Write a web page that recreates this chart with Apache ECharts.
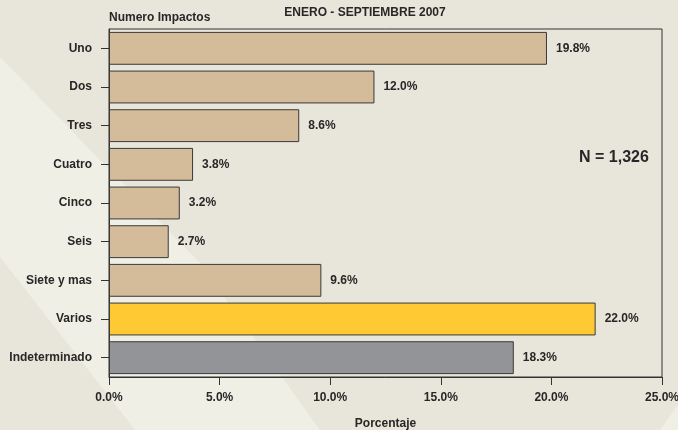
<!DOCTYPE html>
<html>
<head>
<meta charset="utf-8">
<script src="https://cdn.jsdelivr.net/npm/echarts@6/dist/echarts.min.js"></script>
<style>
  html, body { margin: 0; padding: 0; background: #e8e5da; }
  #chart { width: 678px; height: 430px; }
</style>
</head>
<body>
<div id="chart"></div>
<script>
// categories (top to bottom) and their percentages
const categories = ['Uno', 'Dos', 'Tres', 'Cuatro', 'Cinco', 'Seis', 'Siete y mas', 'Varios', 'Indeterminado']
const percents = [19.8, 12.0, 8.6, 3.8, 3.2, 2.7, 9.6, 22.0, 18.3]
const barColors = ['#d4bb99', '#d4bb99', '#d4bb99', '#d4bb99', '#d4bb99', '#d4bb99', '#d4bb99', '#fec933', '#939497']
const xTicks = [0, 5, 10, 15, 20, 25]

const font = '"Liberation Sans", Arial, sans-serif'
const ink = '#2a2627'

const chart = echarts.init(document.getElementById('chart'))

chart.setOption({
  backgroundColor: '#e8e5da',
  animation: false,
  textStyle: { fontFamily: font },
  graphic: [
    // pale diagonal band in the background
    {
      type: 'polygon', z: -10, silent: true,
      shape: { points: [[0, 57], [110, 170], [200, 263], [320, 430], [135, 430], [0, 257]] },
      style: { fill: '#f0efe6' }
    },
    {
      type: 'polygon', z: -10, silent: true,
      shape: { points: [[660, 430], [678, 405], [678, 430]] },
      style: { fill: '#f0efe6' }
    },
    {
      type: 'text', left: 109, top: 12,
      style: { text: 'Numero Impactos', fill: ink, font: 'bold 12px ' + font }
    },
    {
      type: 'text', left: 579, top: 150,
      style: { text: 'N = 1,326', fill: ink, font: 'bold 16px ' + font }
    }
  ],
  title: {
    text: 'ENERO - SEPTIEMBRE 2007',
    left: 360, top: 2, textAlign: 'center',
    textStyle: { fontSize: 12, fontWeight: 'bold', color: ink, fontFamily: font }
  },
  grid: {
    left: 109, right: 16, top: 29, bottom: 53,
    outerBoundsMode: 'none', containLabel: false,
    show: true, borderColor: '#333', borderWidth: 1, backgroundColor: 'transparent'
  },
  xAxis: {
    type: 'value',
    min: xTicks[0], max: xTicks[xTicks.length - 1], interval: 5,
    name: 'Porcentaje', nameLocation: 'middle', nameGap: 41,
    nameTextStyle: { fontSize: 12, fontWeight: 'bold', color: ink, fontFamily: font },
    axisLine: { show: true, lineStyle: { color: '#333', width: 1 } },
    axisTick: { show: true, length: 8, lineStyle: { color: '#333' } },
    splitLine: { show: false },
    axisLabel: {
      margin: 15, fontSize: 12, fontWeight: 'bold', color: ink, fontFamily: font,
      formatter: v => v.toFixed(1) + '%'
    }
  },
  yAxis: {
    type: 'category',
    data: categories,
    inverse: true,
    axisLine: { show: true, lineStyle: { color: '#333', width: 1 } },
    axisTick: { show: true, length: 8, alignWithLabel: true, lineStyle: { color: '#333' } },
    axisLabel: { margin: 17, fontSize: 12, fontWeight: 'bold', color: ink, fontFamily: font }
  },
  series: [
    {
      type: 'bar',
      data: percents.map((v, i) => ({ value: v, itemStyle: { color: barColors[i] } })),
      barCategoryGap: '15%',
      itemStyle: { borderColor: '#3a3a3a', borderWidth: 1 },
      label: {
        show: true, position: 'right', distance: 9,
        fontSize: 12, fontWeight: 'bold', color: ink, fontFamily: font,
        formatter: p => p.value.toFixed(1) + '%'
      }
    }
  ]
})
</script>
</body>
</html>
